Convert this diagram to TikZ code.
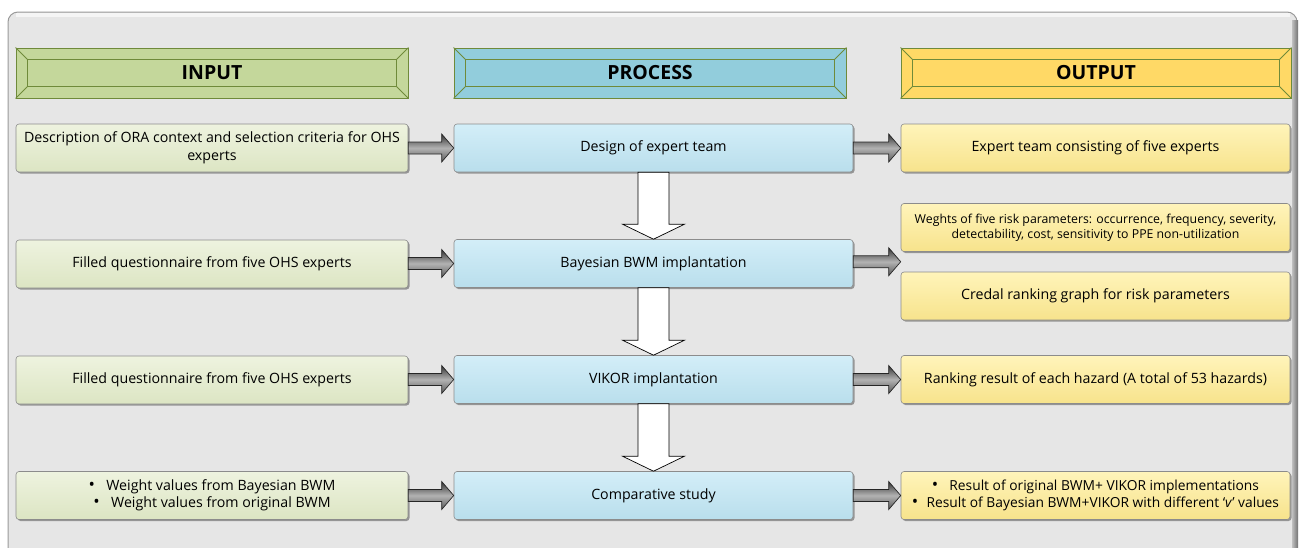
\documentclass[tikz,border=0pt]{standalone}
\usepackage{fontspec}
\setmainfont{Open Sans}
\usetikzlibrary{calc,shadows}
\definecolor{frameFill}{HTML}{E6E6E6}
\definecolor{frameLine}{HTML}{9A9A9A}
\definecolor{hdrLine}{HTML}{6F8A3A}
\definecolor{inHdr}{HTML}{C4D79B}
\definecolor{prHdr}{HTML}{92CDDC}
\definecolor{outHdr}{HTML}{FFD966}
\definecolor{inTop}{HTML}{EEF3DF}
\definecolor{inBot}{HTML}{DCE5C3}
\definecolor{prTop}{HTML}{D3EEF8}
\definecolor{prBot}{HTML}{B9DEEC}
\definecolor{outTop}{HTML}{FFF4BA}
\definecolor{outBot}{HTML}{F7E38C}
\definecolor{boxLine}{HTML}{8C8C8C}
\newcommand{\bul}{{\fontsize{17}{17}\selectfont\textbullet}}
\tikzset{
  hdr/.style={draw=hdrLine, line width=0.9pt, minimum height=50pt, inner sep=0pt,
    font=\fontsize{19.5}{22}\selectfont\bfseries},
  hdrline/.style={draw=hdrLine, line width=0.9pt},
  box/.style={draw=boxLine, line width=0.6pt, rounded corners=3pt, minimum height=48pt,
    inner sep=2pt, align=center, font=\fontsize{14.2}{17.5}\selectfont,
    drop shadow={shadow xshift=1.5pt, shadow yshift=-1.5pt, opacity=0.35, fill=black}},
  inbox/.style={box, top color=inTop, bottom color=inBot, minimum width=392pt},
  prbox/.style={box, top color=prTop, bottom color=prBot, minimum width=399pt},
  outbox/.style={box, top color=outTop, bottom color=outBot, minimum width=389pt},
  harrow/.style={draw=black!85, line width=0.7pt, top color=black!80, bottom color=black!65, middle color=black!30},
  varrow/.style={draw=black, line width=0.7pt, fill=white}
}
\begin{document}
\begin{tikzpicture}[x=1pt, y=-1pt]
\useasboundingbox (0,0) rectangle (1301,547);
% outer frame
\path[fill=frameFill, draw=frameLine, line width=1pt, rounded corners=10pt] (8,12) rectangle (1297,570);
\path[left color=black!25, right color=black!55] (1292,20) rectangle (1298,547);
\path[fill=white, opacity=0.6] (16,13) -- (1290,13) -- (1290,17) -- (16,17) -- cycle;

% headers
\node[hdr, fill=inHdr, minimum width=392pt] (hin) at (212,73) {INPUT};
\node[hdr, fill=prHdr, minimum width=392pt] (hpr) at (650,73) {PROCESS};
\node[hdr, fill=outHdr, minimum width=390pt] (hout) at (1096,73) {OUTPUT};
\foreach \n in {hin,hpr,hout}{
  \draw[hdrline] ($(\n.north west)+(12,12)$) rectangle ($(\n.south east)+(-12,-12)$);
  \draw[hdrline] (\n.north west) -- ($(\n.north west)+(12,12)$);
  \draw[hdrline] (\n.south west) -- ($(\n.south west)+(12,-12)$);
  \draw[hdrline] (\n.north east) -- ($(\n.north east)+(-12,12)$);
  \draw[hdrline] (\n.south east) -- ($(\n.south east)+(-12,-12)$);
}

% input column
\node[inbox] (i1) at (212,148) {Description of ORA context and selection criteria for OHS\\experts};
\node[inbox] (i2) at (212,264) {Filled questionnaire from five OHS experts};
\node[inbox] (i3) at (212,380) {Filled questionnaire from five OHS experts};
\node[inbox] (i4) at (212,495.5) {\bul\hspace{0.8em}Weight values from Bayesian BWM\\\bul\hspace{0.8em}Weight values from original BWM};

% process column
\node[prbox] (p1) at (653.5,148) {Design of expert team};
\node[prbox] (p2) at (653.5,263.5) {Bayesian BWM implantation};
\node[prbox] (p3) at (653.5,379.5) {VIKOR implantation};
\node[prbox] (p4) at (653.5,495.5) {Comparative study};

% output column
\node[outbox] (o1) at (1095.5,148) {Expert team consisting of five experts};
\node[outbox, font=\fontsize{12.3}{15}\selectfont] (o2a) at (1095.5,227.5) {Weghts of five risk parameters: occurrence, frequency, severity,\\detectability, cost, sensitivity to PPE non-utilization};
\node[outbox] (o2b) at (1095.5,296) {Credal ranking graph for risk parameters};
\node[outbox] (o3) at (1095.5,379.5) {Ranking result of each hazard (A total of 53 hazards)};
\node[outbox, font=\fontsize{13.8}{17.5}\selectfont] (o4) at (1095.5,495.5) {\bul\hspace{0.8em}Result of original BWM+ VIKOR implementations\\\bul\hspace{0.6em}Result of Bayesian BWM+VIKOR with different ‘\textit{v}’ values};
\coordinate (o2m) at ($(o2a.south west)!0.5!(o2b.north west)$);

% horizontal arrows
\foreach \a/\b in {i1/p1,i2/p2,i3/p3,i4/p4,p1/o1,p2/o2m,p3/o3,p4/o4}{
  \path[harrow] ($(\a.east|-\b.west)+(0,-6)$) -- ($(\b.west)+(-12,-6)$) -- ($(\b.west)+(-12,-14)$) -- (\b.west)
     -- ($(\b.west)+(-12,14)$) -- ($(\b.west)+(-12,6)$) -- ($(\a.east|-\b.west)+(0,6)$) -- cycle;
}

% down arrows
\foreach \a/\b in {p1/p2,p2/p3,p3/p4}{
  \path[varrow] ($(\a.south)+(-15.5,0)$) -- ($(\a.south)+(15.5,0)$) -- ($(\b.north)+(15.5,-15)$)
     -- ($(\b.north)+(31,-15)$) -- (\b.north) -- ($(\b.north)+(-31,-15)$) -- ($(\b.north)+(-15.5,-15)$) -- cycle;
}
\end{tikzpicture}
\end{document}
